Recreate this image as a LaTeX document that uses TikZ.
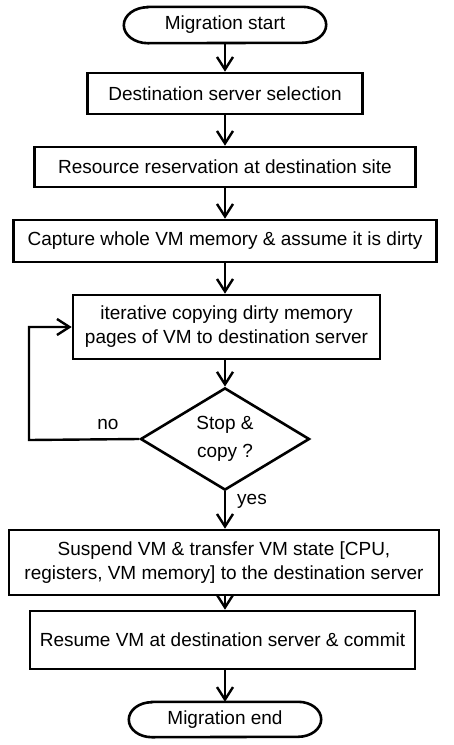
\documentclass[tikz,border=0pt]{standalone}
\usepackage{fontspec}
\setmainfont{Liberation Sans}
\usetikzlibrary{arrows.meta,shapes.geometric}
\begin{document}
\begin{tikzpicture}[x=1pt,y=-1pt,
  every node/.style={font=\fontsize{19}{24}\selectfont},
  box/.style={draw,line width=2.6pt,inner sep=0pt,align=center},
  term/.style={inner sep=0pt},
  termline/.style={line width=2.6pt},
  dec/.style={draw,diamond,line width=2.6pt,inner sep=0pt,align=center,font=\fontsize{19}{28}\selectfont},
  arr/.style={line width=2.4pt,-{Straight Barb[length=12.5pt,width=16pt]}},
  lbl/.style={inner sep=0pt}]
\useasboundingbox (0,0) rectangle (453,745);
\node[term,minimum width=202pt,minimum height=36pt] (start) at (225,25) {Migration start};
\node[box,minimum width=275pt,minimum height=41pt] (b1) at (225,93.5) {Destination server selection};
\node[box,minimum width=381pt,minimum height=40pt] (b2) at (225,167) {Resource reservation at destination site};
\node[box,minimum width=423pt,minimum height=42pt] (b3) at (225,241) {Capture whole VM memory \& assume it is dirty};
\node[box,minimum width=307pt,minimum height=64pt] (b4) at (226.5,327) {iterative copying dirty memory\\pages of VM to destination server};
\node[dec,minimum width=169pt,minimum height=90pt] (dia) at (225,439) {Stop \&\\copy ?};
\node[box,minimum width=430pt,minimum height=65pt] (b5) at (224,562.5) {Suspend VM \& transfer VM state [CPU,\\registers, VM memory] to the destination server};
\node[box,minimum width=385pt,minimum height=58pt] (b6) at (222.5,640) {Resume VM at destination server \& commit};
\node[term,minimum width=192pt,minimum height=35pt] (end) at (225,719.5) {Migration end};
\node[lbl] (no) at (108,424) {no};
\node[lbl] (yes) at (252,501) {yes};
\coordinate (lp) at (29,440);
% terminator outlines with elliptical ends
\draw[termline] ([xshift=24pt]start.north west) -- ([xshift=-24pt]start.north east)
  arc[start angle=90,end angle=-90,x radius=24pt,y radius=18pt]
  -- ([xshift=24pt]start.south west)
  arc[start angle=270,end angle=90,x radius=24pt,y radius=18pt] -- cycle;
\draw[termline] ([xshift=23pt]end.north west) -- ([xshift=-23pt]end.north east)
  arc[start angle=90,end angle=-90,x radius=23pt,y radius=17.5pt]
  -- ([xshift=23pt]end.south west)
  arc[start angle=270,end angle=90,x radius=23pt,y radius=17.5pt] -- cycle;
\draw[arr] (start.south) -- (start.south |- b1.north);
\draw[arr] (b1.south -| start.south) -- (start.south |- b2.north);
\draw[arr] (b2.south -| start.south) -- (start.south |- b3.north);
\draw[arr] (b3.south -| start.south) -- (start.south |- b4.north);
\draw[arr] (b4.south -| start.south) -- (dia.north);
\draw[arr] (dia.south) -- (dia.south |- b5.north);
\draw[arr] (b5.south -| start.south) -- (start.south |- b6.north);
\draw[arr] (b6.south -| start.south) -- (end.north);
\draw[arr] (dia.west) -- (lp) |- (b4.west);
\end{tikzpicture}
\end{document}
